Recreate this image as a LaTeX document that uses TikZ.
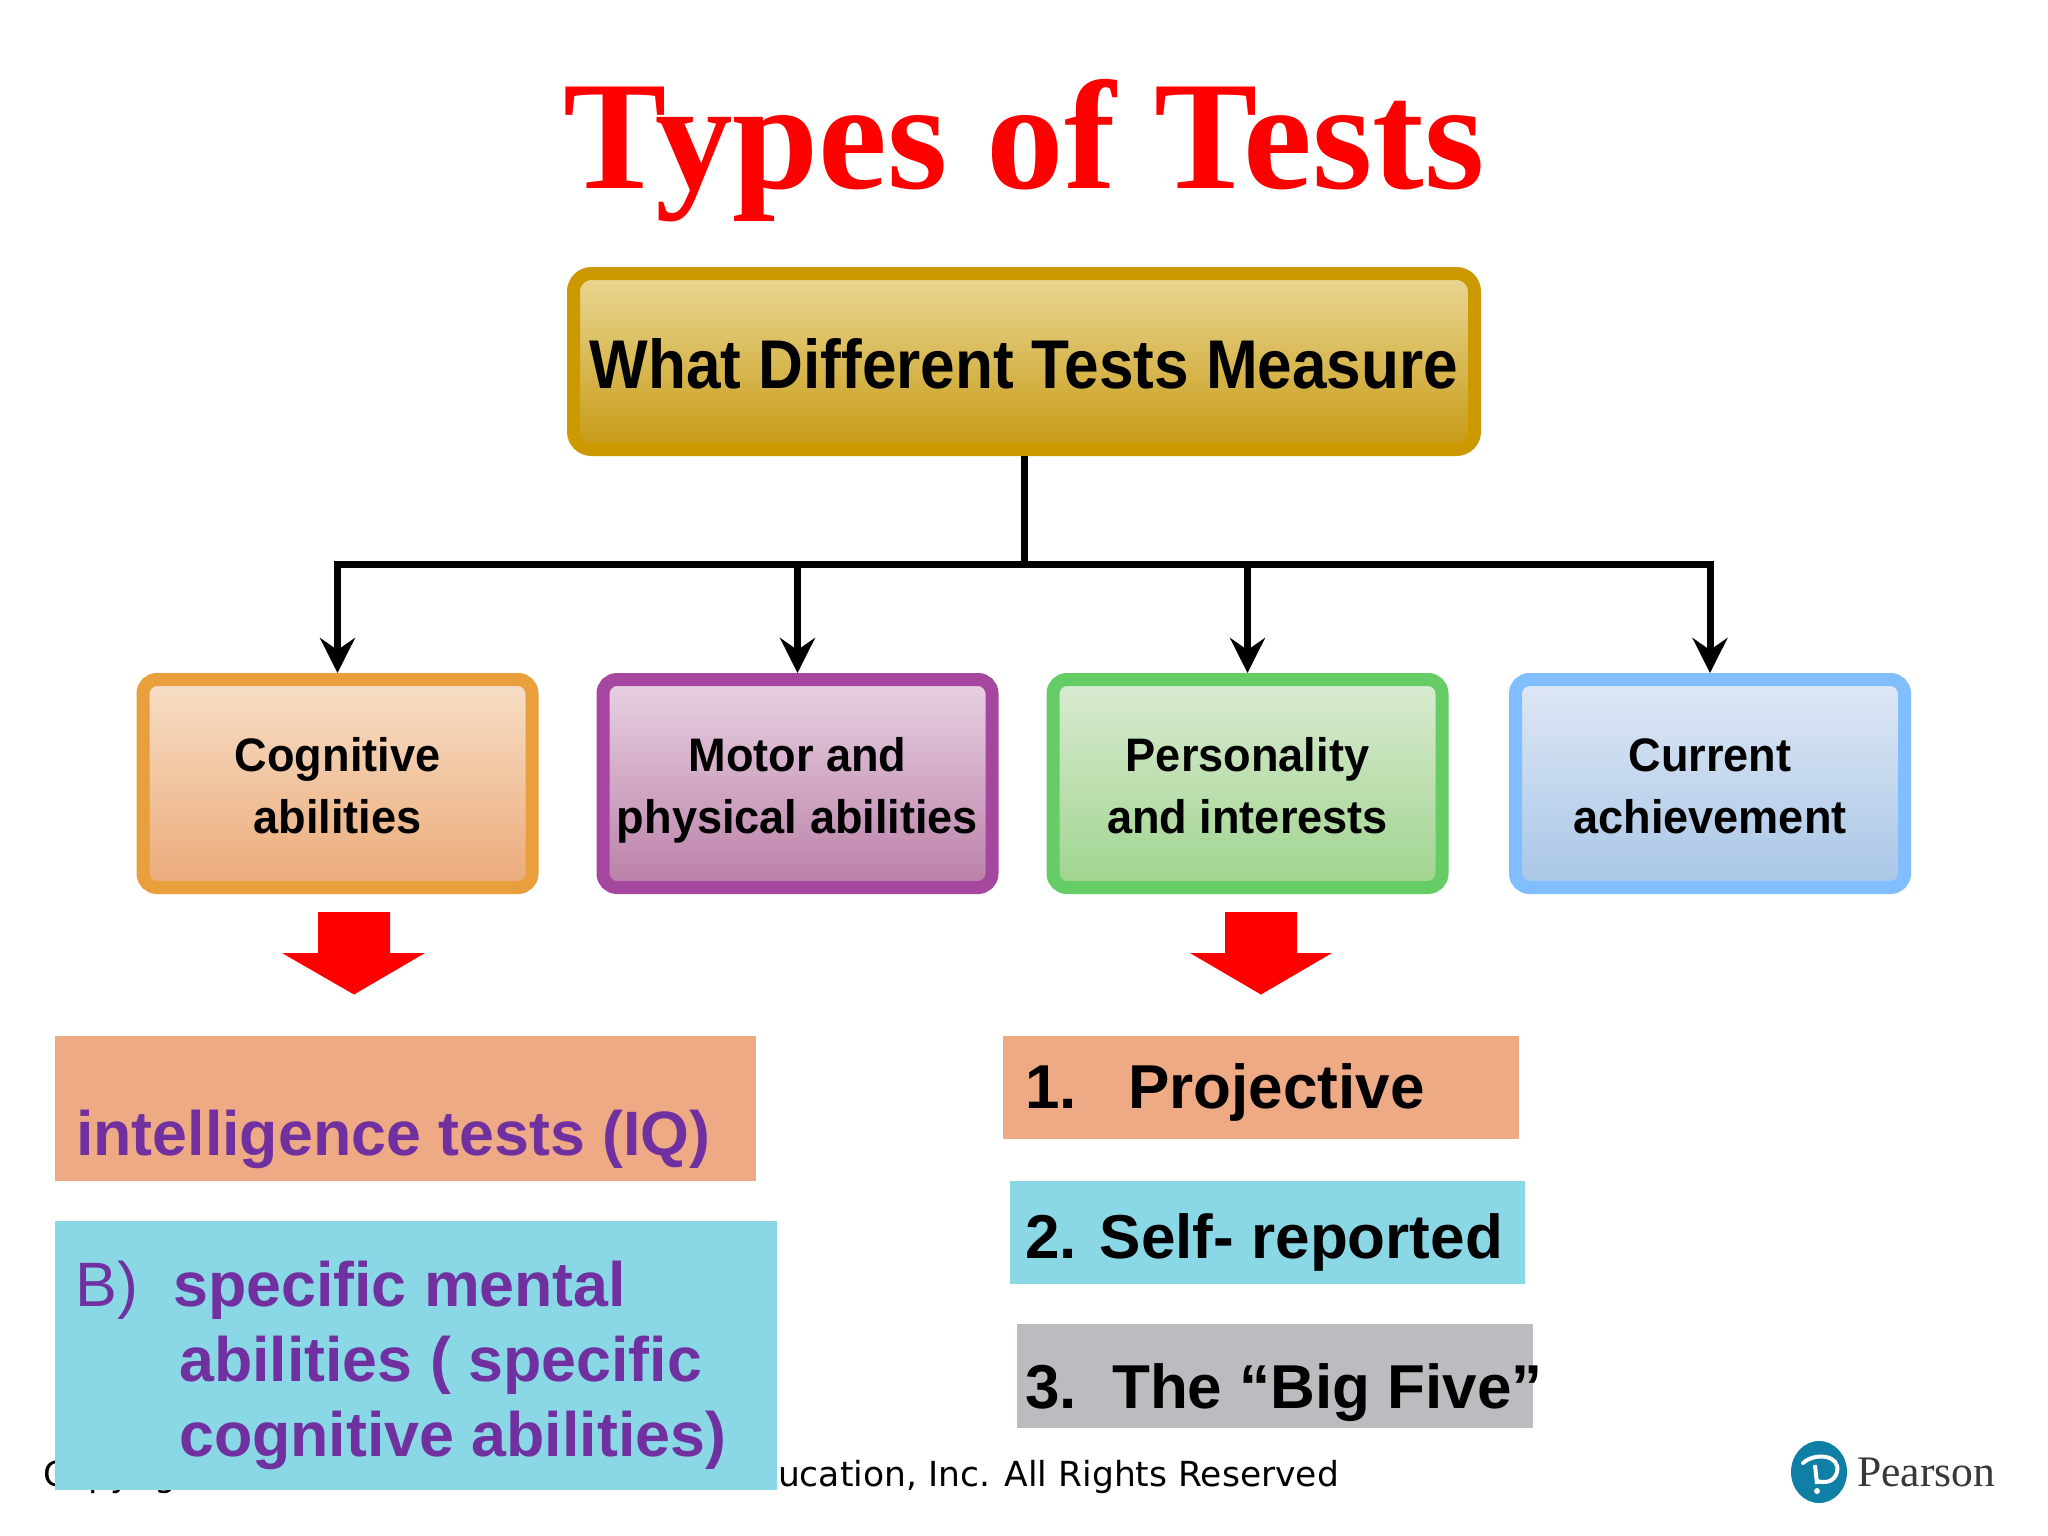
\documentclass[tikz,border=0pt]{standalone}
\usepackage{fontspec}
\setmainfont{Liberation Sans}
\newfontfamily\titlefont{Liberation Serif}
\newfontfamily\narrowfont[FakeStretch=0.96]{Liberation Sans}
\newfontfamily\headfont[FakeStretch=0.9]{Liberation Sans}
\newfontfamily\copyfont{DejaVu Sans}
\usetikzlibrary{arrows.meta,positioning,calc}
\definecolor{tealbox}{HTML}{8AD7E6}
\definecolor{salmonbox}{HTML}{EEA985}
\definecolor{greybox}{HTML}{BDBBBF}
\definecolor{purpletext}{HTML}{7030A0}
\definecolor{pearsonblue}{HTML}{0F7FA5}
\newcommand{\linestrut}{\rule[-12pt]{0pt}{62pt}}
\newcommand{\headstrut}{\rule[-14pt]{0pt}{81pt}}
\tikzset{
  x=1pt,y=-1pt,
  measure/.style={draw,line width=13pt,rounded corners=14pt,align=center,inner sep=0pt,
     font=\narrowfont\bfseries\fontsize{47}{62}\selectfont,text=black,
     minimum width=389pt,minimum height=208pt},
  conn/.style={draw=black,line width=7pt,-{Stealth[length=35pt,width=35pt,inset=12pt]}},
  trunk/.style={draw=black,line width=7pt},
  bigarrow/.style={fill=red,draw=none},
  panel/.style={draw=none,inner sep=0pt,anchor=north west},
  purplelabel/.style={anchor=base west,inner sep=0pt,text=purpletext,font=\bfseries\fontsize{62.7}{64}\selectfont},
  blacklabel/.style={anchor=base west,inner sep=0pt,text=black,font=\bfseries\fontsize{62}{64}\selectfont},
}
\definecolor{cogborder}{HTML}{E89F3C}\definecolor{cogtop}{HTML}{F7DFC8}\definecolor{cogbot}{HTML}{EBAA78}
\definecolor{motborder}{HTML}{A6479F}\definecolor{mottop}{HTML}{E8D2E2}\definecolor{motbot}{HTML}{BA7FA8}
\definecolor{perborder}{HTML}{66CC66}\definecolor{pertop}{HTML}{DAEBD2}\definecolor{perbot}{HTML}{A0D48E}
\definecolor{curborder}{HTML}{80BEFF}\definecolor{curtop}{HTML}{DFE8F5}\definecolor{curbot}{HTML}{A8C6E6}
\definecolor{topborder}{HTML}{CC9A00}\definecolor{toptop}{HTML}{EAD896}\definecolor{topbot}{HTML}{C79A14}
\begin{document}
\begin{tikzpicture}
\useasboundingbox[fill=white] (0,0) rectangle (2048,1536);

\node[anchor=base,inner sep=0pt,text=red,font=\titlefont\bfseries\fontsize{155}{155}\selectfont] (title) at (1024,189) {Types of Tests};

\node[measure,draw=topborder,top color=toptop,bottom color=topbot,rounded corners=18pt,minimum width=901pt,minimum height=176pt,
   font=\headfont\bfseries\fontsize{69}{69}\selectfont] (top) at (1024,361.5) {\headstrut What Different Tests Measure};

\node[measure,draw=cogborder,top color=cogtop,bottom color=cogbot] (cog) at (337.5,783.5) {\linestrut Cognitive\\\linestrut abilities};
\node[measure,draw=motborder,top color=mottop,bottom color=motbot] (mot) at (797.5,783.5) {\linestrut Motor and\\\linestrut physical abilities};
\node[measure,draw=perborder,top color=pertop,bottom color=perbot] (per) at (1247.5,783.5) {\linestrut Personality\\\linestrut and interests};
\node[measure,draw=curborder,top color=curtop,bottom color=curbot] (cur) at (1710,783.5) {\linestrut Current\\\linestrut achievement};

\coordinate (hub) at (1024,564);
\draw[trunk] (top.south) -- (hub);
\draw[conn] (hub) -| (cog.north);
\draw[conn] (hub) -| (mot.north);
\draw[conn] (hub) -| (per.north);
\draw[conn] (hub) -| (cur.north);

\fill[bigarrow] (318,912) -- (390,912) -- (390,953) -- (425,953) -- (354,994.5) -- (282,953) -- (318,953) -- cycle;
\fill[bigarrow] (1225,912) -- (1297,912) -- (1297,953) -- (1332,953) -- (1261,994.5) -- (1190,953) -- (1225,953) -- cycle;

\node[anchor=base west,inner sep=0pt,font=\copyfont\fontsize{34.5}{34.5}\selectfont,text=black] (copy) at (43,1486) {Copyright © 2020, 2017, 2014 Pearson Education, Inc. All Rights Reserved};

\node[panel,fill=salmonbox,minimum width=701pt,minimum height=145pt] (iqbox) at (55,1036) {};
\node[panel,fill=tealbox,minimum width=722pt,minimum height=269pt] (spbox) at (55,1221) {};
\node[panel,fill=salmonbox,minimum width=516pt,minimum height=103pt] (pjbox) at (1003,1036) {};
\node[panel,fill=tealbox,minimum width=515pt,minimum height=103pt] (srbox) at (1010,1181) {};
\node[panel,fill=greybox,minimum width=516pt,minimum height=104pt] (bfbox) at (1017,1324) {};

\node[purplelabel] (iq) at (76,1155.5) {intelligence tests (IQ)};
\node[purplelabel,font=\fontsize{62.7}{64}\selectfont] (bb) at (75,1306) {B)};
\node[purplelabel] (s1) at (173,1306) {specific mental};
\node[purplelabel] (s2) at (179,1381) {abilities ( specific};
\node[purplelabel] (s3) at (179,1456) {cognitive abilities)};

\node[blacklabel] (n1) at (1025,1108) {1.};
\node[blacklabel] (p1) at (1128,1108) {Projective};
\node[blacklabel] (n2) at (1025,1258) {2. Self- reported};
\node[blacklabel] (n3) at (1025,1408) {3.};
\node[blacklabel] (p3) at (1112,1408) {The “Big Five”};

\fill[pearsonblue] (1819,1472) ellipse [x radius=28,y radius=31];
\draw[white,line width=4pt,line cap=round] (1803,1463) .. controls (1815,1452) and (1841,1455) .. (1837,1472) .. controls (1834,1483) and (1824,1483) .. (1817,1481);
\draw[white,line width=4pt] (1815,1465) -- (1817,1484);
\fill[white] (1817,1491) circle (3);
\node[anchor=base west,inner sep=0pt,text=black!78,font=\titlefont\fontsize{43.6}{44}\selectfont] (logo) at (1857,1486) {Pearson};
\end{tikzpicture}
\end{document}
